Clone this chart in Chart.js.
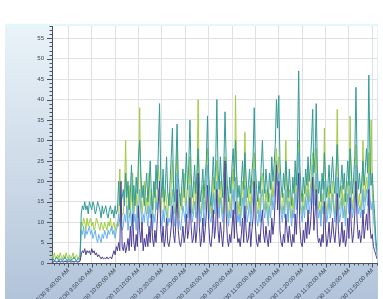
<!DOCTYPE html>
<html>
<head>
<meta charset="utf-8">
<script src="https://cdn.jsdelivr.net/npm/chart.js@4.4.0/dist/chart.umd.min.js"></script>
<style>
  html, body { margin: 0; padding: 0; background: #fff; }
  #wrap { width: 383px; height: 299px; }
</style>
</head>
<body>
<div id="wrap"><canvas id="c" width="383" height="299"></canvas></div>
<script>
// Samples every 30 s starting 9:33 (minutes after midnight)
const START_MIN = 573;
const STEP_MIN = 0.5;

const xTickMinutes = [580, 590, 600, 610, 620, 630, 640, 650, 660, 670, 680, 690, 700, 710];
const xTickLabels = [
  "7/30 9:40:00 AM", "7/30 9:50:00 AM", "7/30 10:00:00 AM", "7/30 10:10:00 AM",
  "7/30 10:20:00 AM", "7/30 10:30:00 AM", "7/30 10:40:00 AM", "7/30 10:50:00 AM",
  "7/30 11:00:00 AM", "7/30 11:10:00 AM", "7/30 11:20:00 AM", "7/30 11:30:00 AM",
  "7/30 11:40:00 AM", "7/30 11:50:00 AM"
];
const yTicks = [0, 5, 10, 15, 20, 25, 30, 35, 40, 45, 50, 55];

const teal = [
  1,1,0.5,1,1.5,1,0.5,1,1,0.5,1,1.5,1,0.5,1,1,0.5,1,1,1.5,1,0.5,1,1,1,
  12,14,13,15,13,14,12,15,14,13,15,14,12,13,15,14,13,11,14,12,13,14,12,11,13,14,12,13,11,14,12,13,20,14,15,16,
  18,14,22,16,20,13,17,24,15,19,14,21,17,26,30,22,16,19,14,18,
  22,15,19,25,17,13,20,16,24,18,28,39,21,16,23,15,19,26,17,14,
  20,26,33,18,15,24,34,21,17,14,19,23,16,20,27,18,24,35,22,16,
  19,24,17,22,28,20,15,18,23,16,21,25,36,22,17,14,20,26,18,24,
  40,23,18,26,20,16,24,37,25,19,15,21,17,24,28,20,30,22,16,19,
  14,20,25,18,27,21,16,19,23,17,22,26,38,24,18,15,20,17,24,30,
  21,17,23,19,15,22,18,26,20,24,29,40,33,41,25,19,16,22,18,25,
  20,16,23,18,14,21,17,25,19,28,47,24,18,15,21,17,23,19,26,20,
  24,30,37.6,22,26,39,23,17,20,15,22,18,27,21,16,19,24,17,21,26,
  20,17,23,29,21,16,19,24,18,22,15,20,25,19,28,23,17,21,26,43,
  24,18,22,17,20,25,19,23,28,22,46,25,19,22,16,12,6,3
];
const yellowGreen = [
  2,1,2.5,1,1.5,2,1,2.5,1.5,1,2,1,2.5,1.5,1,2,1,1.5,2.5,1,1.5,2,1,1.5,2,
  10,9,11,10,8,11,9,10,11,9,10,8,9,11,10,9,8,10,9,8,10,9,8,10,9,11,8,9,10,8,9,10,9,23,10,12,
  12,17,30,14,11,19,13,16,22,12,15,18,11,20,38,17,12,15,20,13,
  16,12,22,14,18,11,15,20,13,17,24,19,12,16,21,13,18,15,11,17,
  14,19,25,16,12,21,28,15,11,17,13,18,22,14,16,20,13,26,17,12,
  15,20,13,18,40,16,12,14,19,13,17,22,28,18,12,15,11,21,14,19,
  25,17,13,20,15,12,18,26,20,14,11,16,13,19,23,15,41,18,12,15,
  11,16,20,14,32,17,13,15,19,12,18,21,27,19,14,12,16,13,20,22,
  16,13,18,15,11,17,14,20,16,19,24,28,22,26,18,14,12,17,13,30,
  17,12,18,15,11,16,13,21,15,22,30,19,14,12,17,13,19,16,22,15,
  18,23,27,16,20,28,17,13,15,11,17,14,33,16,12,15,19,13,16,20,
  15,12,18,37.6,17,13,15,19,14,17,11,16,20,15,36,18,13,16,21,29,
  18,14,17,13,15,30,15,18,21,17,27,19,35,17,13,9,5,2
];
const lightBlue = [
  0.5,0.3,0.5,0.5,0.3,0.5,0.5,0.3,0.5,0.5,0.3,0.5,0.5,0.3,0.5,0.5,0.3,0.5,0.5,0.3,0.5,0.5,0.3,0.5,0.5,
  8,7,9,6,8,7,8,9,7,8,6,7,8,6,5,7,6,5,7,6,8,7,6,8,7,8,9,7,8,6,8,9,12,10,9,8,
  9,12,10,14,8,11,13,9,15,10,12,8,14,11,18,13,9,12,10,14,
  12,9,14,11,16,8,12,10,15,13,18,16,11,9,13,10,14,12,9,11,
  10,14,18,12,9,15,22,13,10,8,11,14,12,10,16,11,13,19,14,10,
  12,15,11,13,20,14,10,12,16,9,13,18,24,15,11,10,13,17,12,16,
  20,14,11,16,13,10,14,22,17,12,9,13,11,15,18,12,21,14,10,12,
  9,13,16,11,19,14,10,12,15,9,14,17,23,16,11,9,13,10,16,18,
  13,11,15,12,9,14,11,17,13,16,20,25,19,22,15,12,10,14,11,18,
  14,10,15,12,9,13,11,17,13,19,27,16,12,10,14,11,16,13,18,12,
  15,19,24,14,17,22,14,11,13,9,14,12,20,14,10,12,16,11,13,17,
  13,10,15,21,14,10,12,16,11,14,9,13,17,12,20,15,11,13,17,24,
  15,12,14,11,13,18,12,15,18,14,22,16,13,15,11,8,4,2
];
const purple = [
  0.3,0.2,0.4,0.3,0.2,0.3,0.4,0.2,0.3,0.3,0.2,0.4,0.3,0.2,0.3,0.4,0.2,0.3,0.3,0.2,0.4,0.3,0.2,0.3,0.5,
  2,3,2.5,3.5,2,3,2.5,3,2,3.5,2.5,3,2,2.5,1.5,2,1.5,1,1.5,1,1.2,1,1.5,1,1.2,1.5,1,2,3,2,4,3,5,3,20,4,
  3,5,2.5,4,6,3,9,4,12,5,3,7,4,14,8,5,10,3,6,4,
  7,4,9,5,12,6,4,8,5,10,15,20,8,5,9,4,6,11,5,4,
  6,9,14,7,5,10,18,8,5,4,6,9,5,7,12,6,8,16,9,5,
  6,10,5,8,22,9,4,6,11,5,8,12,19,10,5,4,7,13,6,9,
  18,8,5,10,7,4,8,25,12,6,4,7,5,9,13,6,15,8,5,6,
  4,7,11,5,14,8,5,6,10,4,8,11,20,9,5,4,7,5,10,13,
  7,5,9,6,4,8,5,11,7,10,16,24,13,20,8,5,4,7,5,12,
  8,5,9,6,4,7,5,12,7,14,22,9,5,4,8,5,10,6,13,7,
  9,14,21,8,12,18,7,5,6,4,7,5,15,8,4,6,10,5,7,11,
  7,5,9,17,8,4,6,10,5,8,4,6,11,6,16,9,5,7,12,20,
  10,6,8,5,7,13,6,9,12,8,18,9,6,7,4,3,2,1
];

const toPoints = (arr) => arr.map((v, i) => ({ x: START_MIN + i * STEP_MIN, y: v }));

const AXIS = "#4a5563";
const GRID = "#dfe1e4";
const FONT = { family: "'Liberation Sans', Arial, sans-serif", size: 6 };

// panel background, white plot area
const backdrop = {
  id: "backdrop",
  beforeDraw(chart) {
    const { ctx, chartArea: a } = chart;
    ctx.save();
    ctx.fillStyle = "#ffffff";
    ctx.fillRect(0, 0, chart.width, chart.height);
    const g = ctx.createLinearGradient(0, 24, 0, 299);
    g.addColorStop(0, "#eaf3f8");
    g.addColorStop(0.5, "#cfdce9");
    g.addColorStop(1, "#b2c4da");
    ctx.fillStyle = g;
    ctx.fillRect(5, 24, 373, 275);
    ctx.fillStyle = "#e2f8fa";
    ctx.fillRect(5, 24, 373, 3);
    ctx.fillStyle = "#ffffff";
    ctx.fillRect(a.left, a.top, a.right - a.left, a.bottom - a.top);
    ctx.restore();
  }
};

// major + minor tick marks drawn through the scales
const tickMarks = {
  id: "tickMarks",
  afterDraw(chart) {
    const { ctx, chartArea: a } = chart;
    const xs = chart.scales.x, ys = chart.scales.y;
    ctx.save();
    ctx.strokeStyle = AXIS;
    ctx.lineWidth = 1;
    ctx.beginPath();
    for (let v = 0; v <= ys.max; v++) {
      const y = Math.round(ys.getPixelForValue(v)) + 0.5;
      const len = v % 5 === 0 ? 5 : 2.5;
      ctx.moveTo(a.left - len, y);
      ctx.lineTo(a.left, y);
    }
    for (let m = 574; m <= xs.max; m += 2) {
      const x = Math.round(xs.getPixelForValue(m)) + 0.5;
      const len = (m - 580) % 10 === 0 ? 4.5 : 2.5;
      ctx.moveTo(x, a.bottom);
      ctx.lineTo(x, a.bottom + len);
    }
    ctx.stroke();
    ctx.restore();
  }
};

const line = (label, data, color) => ({
  label, data: toPoints(data), borderColor: color, borderWidth: 1,
  pointRadius: 0, tension: 0, fill: false
});

new Chart(document.getElementById("c"), {
  type: "line",
  data: {
    datasets: [
      line("purple", purple, "#4c3f94"),
      line("teal", teal, "#339b96"),
      line("lightBlue", lightBlue, "#64b0ec"),
      line("yellowGreen", yellowGreen, "#9fcc3e")
    ]
  },
  options: {
    responsive: false,
    animation: false,
    devicePixelRatio: 1,
    layout: { padding: { left: 5, right: 6, top: 26, bottom: 0 } },
    plugins: { legend: { display: false }, tooltip: { enabled: false } },
    scales: {
      x: {
        type: "linear",
        min: START_MIN,
        max: 712,
        afterBuildTicks: (s) => { s.ticks = xTickMinutes.map((v) => ({ value: v })); },
        afterFit: (s) => { s.height = 36; },
        grid: { color: GRID, drawTicks: false },
        border: { color: AXIS },
        ticks: {
          autoSkip: false, maxRotation: 45, minRotation: 45, padding: 4,
          color: "#3c4450", font: FONT,
          callback: (v, i) => xTickLabels[i]
        }
      },
      y: {
        min: 0,
        max: 58,
        afterBuildTicks: (s) => { s.ticks = yTicks.map((v) => ({ value: v })); },
        afterFit: (s) => { s.width = 47; },
        grid: { color: GRID, drawTicks: false },
        border: { color: AXIS },
        ticks: { padding: 8, color: "#3c4450", font: FONT }
      }
    }
  },
  plugins: [backdrop, tickMarks]
});
</script>
</body>
</html>
